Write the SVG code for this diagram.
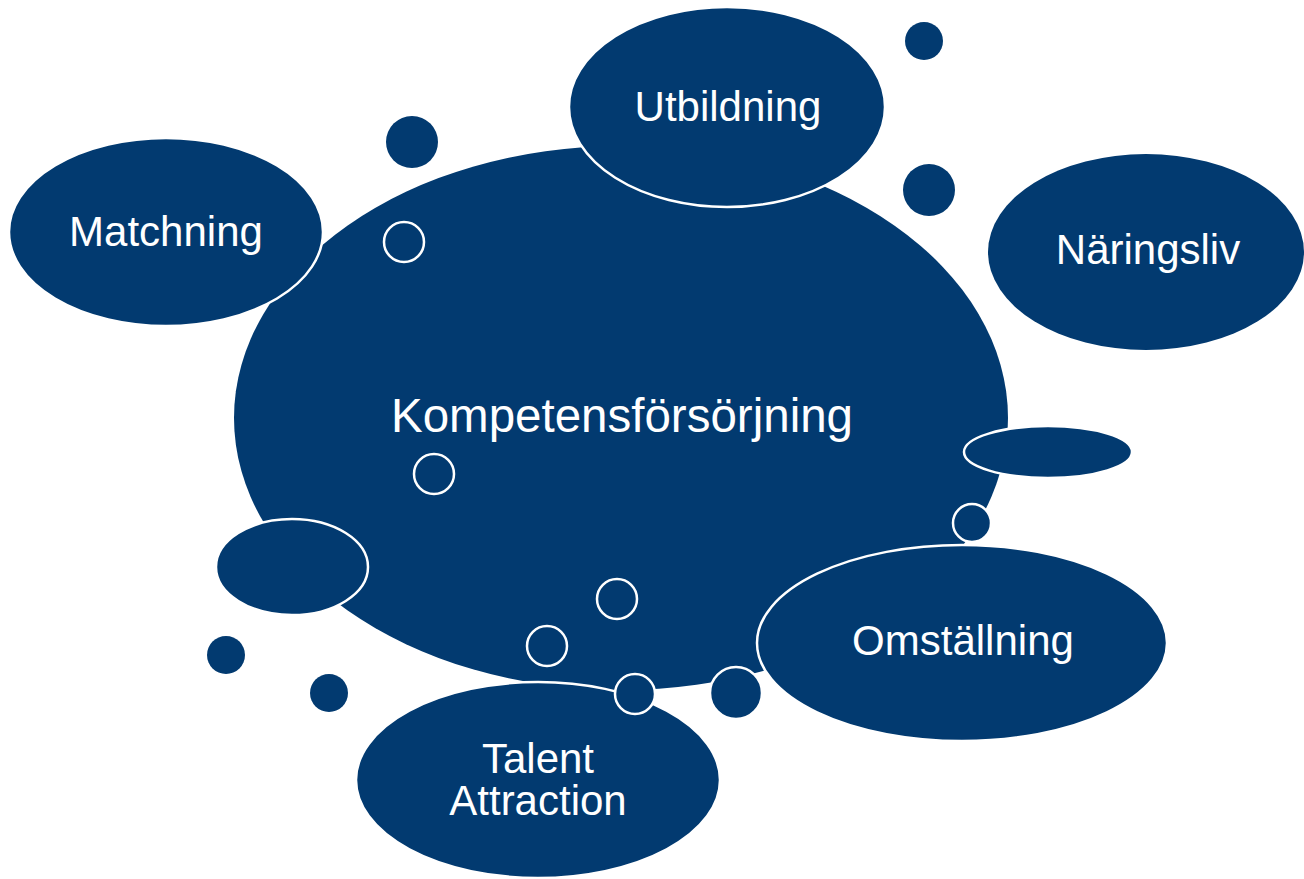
<svg xmlns="http://www.w3.org/2000/svg" width="1304" height="879" viewBox="0 0 1304 879">
<style>
.b{fill:#023A70;}
.s{fill:#023A70;stroke:#fff;stroke-width:2.5;}
.t{fill:#fff;font-family:"Liberation Sans",Arial,sans-serif;font-size:42px;text-anchor:middle;}
</style>
<rect width="1304" height="879" fill="#fff"/>
<g id="kompetens">
<ellipse class="b" cx="621" cy="418" rx="387" ry="272"/>
<text class="t" x="622" y="432" style="font-size:47.5px">Kompetensförsörjning</text>
</g>
<g id="utbildning">
<ellipse class="s" cx="727" cy="107" rx="158" ry="100"/>
<text class="t" x="728" y="121">Utbildning</text>
</g>
<g id="matchning">
<ellipse class="s" cx="166" cy="232" rx="157" ry="94"/>
<text class="t" x="166" y="246">Matchning</text>
</g>
<g id="naringsliv">
<ellipse class="b" cx="1146" cy="252" rx="158" ry="98"/>
<text class="t" x="1148" y="264">Näringsliv</text>
</g>
<g id="small-right">
<ellipse class="s" cx="1048" cy="452" rx="84" ry="26"/>
</g>
<g id="small-left">
<ellipse class="s" cx="292" cy="567" rx="76" ry="48"/>
</g>
<g id="omstallning">
<ellipse class="s" cx="962" cy="643" rx="205" ry="98"/>
<text class="t" x="963" y="655">Omställning</text>
</g>
<g id="talent">
<ellipse class="s" cx="538" cy="780" rx="182" ry="98"/>
<text class="t" x="538" y="773">Talent</text>
<text class="t" x="538" y="815">Attraction</text>
</g>
<g id="dots">
<circle class="b" cx="924" cy="41" r="19"/>
<circle class="b" cx="412" cy="142" r="26"/>
<circle class="b" cx="929" cy="190" r="26"/>
<circle class="b" cx="226" cy="655" r="19"/>
<circle class="b" cx="329" cy="693" r="19"/>
<circle class="s" cx="736" cy="693" r="26"/>
<circle class="s" cx="404" cy="242" r="20"/>
<circle class="s" cx="434" cy="474" r="20"/>
<circle class="s" cx="617" cy="599" r="20"/>
<circle class="s" cx="547" cy="646" r="20"/>
<circle class="s" cx="635" cy="694" r="20"/>
<circle class="s" cx="972" cy="523" r="19"/>
</g>
<g id="connectors"></g>
</svg>
